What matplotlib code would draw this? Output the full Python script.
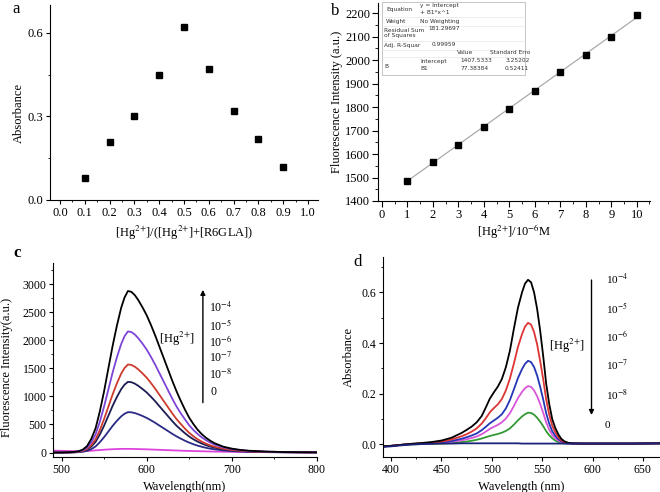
import matplotlib
matplotlib.use("Agg")
import matplotlib.pyplot as plt
from matplotlib.ticker import MultipleLocator, FormatStrFormatter

plt.rcParams["font.family"] = ["Liberation Serif", "DejaVu Serif"]
plt.rcParams["mathtext.fontset"] = "stix"
plt.rcParams["font.size"] = 9
plt.rcParams["xtick.direction"] = "out"
plt.rcParams["ytick.direction"] = "out"

# panel a: Job's plot
job_x = [0.1, 0.2, 0.3, 0.4, 0.5, 0.6, 0.7, 0.8, 0.9]
job_abs = [0.08, 0.21, 0.30, 0.45, 0.62, 0.47, 0.32, 0.22, 0.12]

# panel b: linear calibration
cal_conc = [1, 2, 3, 4, 5, 6, 7, 8, 9, 10]
cal_fl = [1487, 1568, 1638, 1713, 1790, 1868, 1948, 2022, 2100, 2190]
fit_intercept = 1407.5333
fit_slope = 77.38384

# panel c: fluorescence spectra
wl_c = [490, 500, 510, 515, 520, 525, 530, 535, 540, 545,
        550, 555, 560, 565, 570, 574, 578, 582, 586, 590,
        595, 600, 605, 610, 615, 620, 625, 630, 635, 640,
        645, 650, 655, 660, 665, 670, 675, 680, 690, 700,
        710, 720, 740, 760, 780, 800]
fl_1e4 = [0, 0, 6, 12, 23, 52, 115, 245, 432, 734,
          1094, 1498, 1901, 2261, 2578, 2765, 2880, 2866, 2808, 2722,
          2592, 2448, 2275, 2088, 1886, 1685, 1483, 1282, 1094, 922,
          763, 619, 504, 403, 323, 259, 207, 164, 104, 69,
          46, 32, 17, 9, 6, 3]
fl_1e5 = [0, 0, 4, 9, 17, 39, 86, 184, 324, 551,
          821, 1123, 1426, 1696, 1933, 2074, 2160, 2149, 2106, 2041,
          1944, 1836, 1706, 1566, 1415, 1264, 1112, 962, 821, 700,
          590, 485, 400, 328, 266, 216, 175, 140, 92, 62,
          42, 29, 15, 8, 5, 3]
fl_1e6 = [0, 0, 3, 6, 13, 28, 63, 133, 236, 400,
          597, 816, 1036, 1232, 1405, 1507, 1570, 1562, 1531, 1484,
          1413, 1335, 1240, 1138, 1028, 918, 809, 699, 597, 510,
          425, 350, 288, 235, 191, 155, 126, 102, 67, 45,
          31, 21, 11, 6, 4, 2]
fl_1e7 = [0, 0, 3, 5, 10, 23, 50, 107, 189, 321,
          479, 655, 832, 989, 1128, 1210, 1260, 1254, 1229, 1191,
          1134, 1071, 995, 914, 825, 737, 649, 561, 479, 410,
          343, 284, 235, 193, 158, 129, 105, 86, 57, 39,
          27, 19, 10, 6, 3, 2]
fl_1e8 = [0, 0, 1, 3, 6, 13, 29, 61, 108, 184,
          274, 374, 475, 565, 644, 691, 720, 717, 704, 683,
          652, 617, 575, 530, 480, 432, 383, 334, 288, 248,
          210, 176, 147, 122, 101, 83, 68, 56, 38, 26,
          18, 13, 7, 4, 2, 1]
fl_0 = [35, 30, 26, 24, 23, 24, 27, 32, 38, 44,
        50, 55, 59, 62, 64, 65, 65, 64, 63, 61,
        59, 57, 54, 51, 48, 45, 42, 39, 36, 33,
        30, 28, 26, 24, 22, 20, 18, 16, 14, 12,
        10, 9, 7, 6, 5, 4]
fl_series = [fl_0, fl_1e8, fl_1e7, fl_1e6, fl_1e5, fl_1e4]
fl_colors = ["#dd44dd", "#2a2a86", "#1c1c55", "#cc3b2e", "#7d44d8", "#000000"]
conc_labels = ["10$^{-4}$", "10$^{-5}$", "10$^{-6}$", "10$^{-7}$", "10$^{-8}$", "0"]

# panel d: absorption spectra
wl_d = [392, 400, 410, 420, 430, 440, 450, 460, 470, 475,
        480, 485, 490, 494, 498, 502, 506, 510, 514, 518,
        522, 526, 530, 533, 536, 539, 542, 545, 548, 551,
        554, 557, 560, 563, 566, 569, 572, 576, 580, 590,
        600, 620, 640, 670]
ab_1e4 = [-0.008, -0.006, -0.002, 0.002, 0.005, 0.009, 0.015, 0.026, 0.045, 0.057,
          0.070, 0.087, 0.112, 0.145, 0.180, 0.205, 0.228, 0.258, 0.305, 0.370,
          0.458, 0.540, 0.600, 0.635, 0.650, 0.640, 0.600, 0.535, 0.450, 0.350,
          0.240, 0.160, 0.100, 0.065, 0.040, 0.022, 0.012, 0.006, 0.004, 0.003,
          0.003, 0.003, 0.003, 0.004]
ab_1e5 = [-0.008, -0.006, -0.002, 0.002, 0.004, 0.007, 0.011, 0.019, 0.032, 0.040,
          0.050, 0.063, 0.082, 0.103, 0.126, 0.143, 0.158, 0.179, 0.213, 0.260,
          0.320, 0.385, 0.435, 0.465, 0.480, 0.473, 0.443, 0.395, 0.330, 0.258,
          0.178, 0.118, 0.074, 0.048, 0.029, 0.016, 0.009, 0.005, 0.004, 0.003,
          0.003, 0.003, 0.003, 0.004]
ab_1e6 = [-0.008, -0.006, -0.002, 0.001, 0.003, 0.005, 0.008, 0.013, 0.022, 0.028,
          0.035, 0.043, 0.056, 0.069, 0.083, 0.094, 0.105, 0.119, 0.142, 0.175,
          0.218, 0.262, 0.297, 0.318, 0.330, 0.325, 0.305, 0.272, 0.228, 0.178,
          0.123, 0.082, 0.052, 0.034, 0.021, 0.012, 0.007, 0.004, 0.003, 0.003,
          0.003, 0.003, 0.003, 0.004]
ab_1e7 = [-0.008, -0.006, -0.002, 0.001, 0.002, 0.004, 0.006, 0.010, 0.016, 0.020,
          0.025, 0.031, 0.040, 0.050, 0.061, 0.069, 0.077, 0.087, 0.102, 0.123,
          0.152, 0.183, 0.207, 0.222, 0.230, 0.227, 0.213, 0.190, 0.160, 0.125,
          0.087, 0.058, 0.037, 0.024, 0.015, 0.009, 0.005, 0.003, 0.003, 0.003,
          0.003, 0.003, 0.003, 0.004]
ab_1e8 = [-0.008, -0.006, -0.002, 0.000, 0.001, 0.002, 0.003, 0.005, 0.009, 0.011,
          0.014, 0.018, 0.023, 0.028, 0.033, 0.037, 0.041, 0.046, 0.053, 0.063,
          0.078, 0.095, 0.110, 0.119, 0.125, 0.124, 0.117, 0.105, 0.090, 0.072,
          0.052, 0.036, 0.024, 0.015, 0.009, 0.006, 0.004, 0.003, 0.003, 0.003,
          0.003, 0.003, 0.003, 0.004]
ab_0 = [-0.010, -0.008, -0.004, -0.001, 0.001, 0.002, 0.003, 0.003, 0.004, 0.004,
        0.004, 0.004, 0.004, 0.004, 0.004, 0.004, 0.004, 0.004, 0.004, 0.004,
        0.004, 0.004, 0.003, 0.003, 0.003, 0.003, 0.003, 0.003, 0.003, 0.003,
        0.003, 0.003, 0.003, 0.003, 0.003, 0.003, 0.003, 0.003, 0.003, 0.003,
        0.003, 0.003, 0.003, 0.004]
ab_series = [ab_1e8, ab_1e7, ab_1e6, ab_1e5, ab_1e4, ab_0]
ab_colors = ["#339933", "#d955d9", "#2436b5", "#dd3434", "#000000", "#1a2378"]

W, H = 660, 492
fig = plt.figure(figsize=(W / 100, H / 100), dpi=100)


def px_axes(left, top, right, bottom):
    return fig.add_axes([left / W, 1 - bottom / H, (right - left) / W, (bottom - top) / H])


def style(ax, tick_size=9, length=3.0):
    ax.spines["top"].set_visible(False)
    ax.spines["right"].set_visible(False)
    ax.tick_params(which="major", length=length, width=0.8, pad=1.8, labelsize=tick_size)
    ax.tick_params(which="minor", length=length * 0.55, width=0.6)


def ftext(x, y, s, **kw):
    fig.text(x / W, 1 - y / H, s, **kw)


HG = "[Hg$^{2{+}}$]"

# a
ax_a = px_axes(50, 5, 318, 200)
ax_a.plot(job_x, job_abs, "s", color="black", markersize=4.5)
ax_a.set_xlim(-0.04, 1.04)
ax_a.set_ylim(0, 0.70)
ax_a.set_xticks([i / 10 for i in range(11)])
ax_a.xaxis.set_minor_locator(MultipleLocator(0.05))
ax_a.set_yticks([0.0, 0.3, 0.6])
ax_a.yaxis.set_minor_locator(MultipleLocator(0.15))
ax_a.set_xlabel(HG + "/(" + HG + "+[R6GLA])", fontsize=9)
ax_a.set_ylabel("Absorbance", fontsize=9)
style(ax_a)
ax_a.yaxis.set_label_coords(-0.093, 0.446)

# b
ax_b = px_axes(378, 3, 650, 201)
fit_x = [cal_conc[0], cal_conc[-1]]
ax_b.plot(fit_x, [fit_intercept + fit_slope * v for v in fit_x], color="#aaaaaa", lw=0.9)
ax_b.plot(cal_conc, cal_fl, "s", color="black", markersize=4.5)
ax_b.set_xlim(-0.15, 10.52)
ax_b.set_ylim(1400, 2243)
ax_b.set_xticks(range(11))
ax_b.xaxis.set_minor_locator(MultipleLocator(0.5))
ax_b.yaxis.set_major_locator(MultipleLocator(100))
ax_b.yaxis.set_minor_locator(MultipleLocator(50))
ax_b.set_xlabel(HG + "/10$^{-6}$M", fontsize=9, labelpad=0.5)
ax_b.set_ylabel("Fluorescence Intensity (a.u.)", fontsize=9, labelpad=1.2)
style(ax_b, length=4.0)

# fit table inset
tab = dict(fontsize=4.2, family="DejaVu Sans", color="#333333", va="center", zorder=7)
box = plt.Rectangle((382 / W, 1 - 75 / H), 143 / W, 73 / H, transform=fig.transFigure,
                    facecolor="white", edgecolor="#bbbbbb", lw=0.6, zorder=5)
fig.add_artist(box)
for y in [17, 26, 41, 50, 57]:
    fig.add_artist(plt.Line2D([382 / W, 525 / W], [1 - y / H] * 2, color="#e2e2e2",
                              lw=0.4, zorder=6))
ftext(386, 10, "Equation", **tab)
ftext(420, 6, "y = Intercept", **tab)
ftext(420, 12, "+ B1*x^1", **tab)
ftext(386, 22, "Weight", **tab)
ftext(420, 21, "No Weighting", **tab)
ftext(384, 30, "Residual Sum", **tab)
ftext(384, 36, "of Squares", **tab)
ftext(428, 29, "181.29697", **tab)
ftext(384, 45, "Adj. R-Squar", **tab)
ftext(432, 44, "0.99959", **tab)
ftext(457, 53, "Value", **tab)
ftext(490, 53, "Standard Erro", **tab)
ftext(384, 66, "B", **tab)
ftext(420, 61, "Intercept", **tab)
ftext(460, 61, "1407.5333", **tab)
ftext(505, 61, "3.25202", **tab)
ftext(420, 69, "B1", **tab)
ftext(460, 69, "77.38384", **tab)
ftext(505, 69, "0.52411", **tab)

# c
ax_c = px_axes(53, 263, 317, 457)
for ys, col in zip(fl_series, fl_colors):
    ax_c.plot(wl_c, ys, color=col, lw=1.3)
ax_c.set_xlim(490, 800)
ax_c.set_ylim(-80, 3380)
ax_c.xaxis.set_major_locator(MultipleLocator(100))
ax_c.xaxis.set_minor_locator(MultipleLocator(50))
ax_c.yaxis.set_major_locator(MultipleLocator(500))
ax_c.yaxis.set_minor_locator(MultipleLocator(250))
ax_c.set_xlabel("Wavelength(nm)", fontsize=9)
ax_c.set_ylabel("Fluorescence Intensity(a.u.)", fontsize=9)
style(ax_c, tick_size=8.5)
ax_c.yaxis.set_label_coords(-0.152, 0.461)
ax_c.annotate("", xy=(666, 2950), xytext=(666, 840),
              arrowprops=dict(arrowstyle="-|>", color="black", lw=1.0, mutation_scale=7))
for lab, yv in zip(conc_labels, [2580, 2270, 1975, 1680, 1380, 1080]):
    ax_c.text(673 if lab != "0" else 675, yv, lab, fontsize=8.5, va="center")
ax_c.text(657, 2020, HG, fontsize=9, va="center", ha="right")

# d
ax_d = px_axes(383, 257, 660, 457)
for ys, col in zip(ab_series, ab_colors):
    ax_d.plot(wl_d, ys, color=col, lw=1.3)
ax_d.set_xlim(392, 667)
ax_d.set_ylim(-0.05, 0.74)
ax_d.xaxis.set_major_locator(MultipleLocator(50))
ax_d.xaxis.set_minor_locator(MultipleLocator(25))
ax_d.yaxis.set_major_locator(MultipleLocator(0.2))
ax_d.yaxis.set_minor_locator(MultipleLocator(0.1))
ax_d.yaxis.set_major_formatter(FormatStrFormatter("%.1f"))
ax_d.set_xlabel("Wavelength (nm)", fontsize=9)
ax_d.set_ylabel("Absorbance", fontsize=9, labelpad=5)
style(ax_d, tick_size=8.5)
ax_d.annotate("", xy=(599, 0.105), xytext=(599, 0.66),
              arrowprops=dict(arrowstyle="-|>", color="black", lw=1.0, mutation_scale=7))
for lab, yv in zip(conc_labels, [0.65, 0.538, 0.425, 0.313, 0.194, 0.075]):
    ax_d.text(613 if lab != "0" else 612, yv, lab, fontsize=8, va="center")
ax_d.text(592, 0.389, HG, fontsize=9, va="center", ha="right")

# panel letters
ftext(12, 9, "a", fontsize=12, va="center")
ftext(331, 11, "b", fontsize=12, va="center")
ftext(13, 253, "c", fontsize=12, va="center", fontweight="bold")
ftext(353, 262, "d", fontsize=12, va="center")

fig.savefig("out.png", dpi=100)
